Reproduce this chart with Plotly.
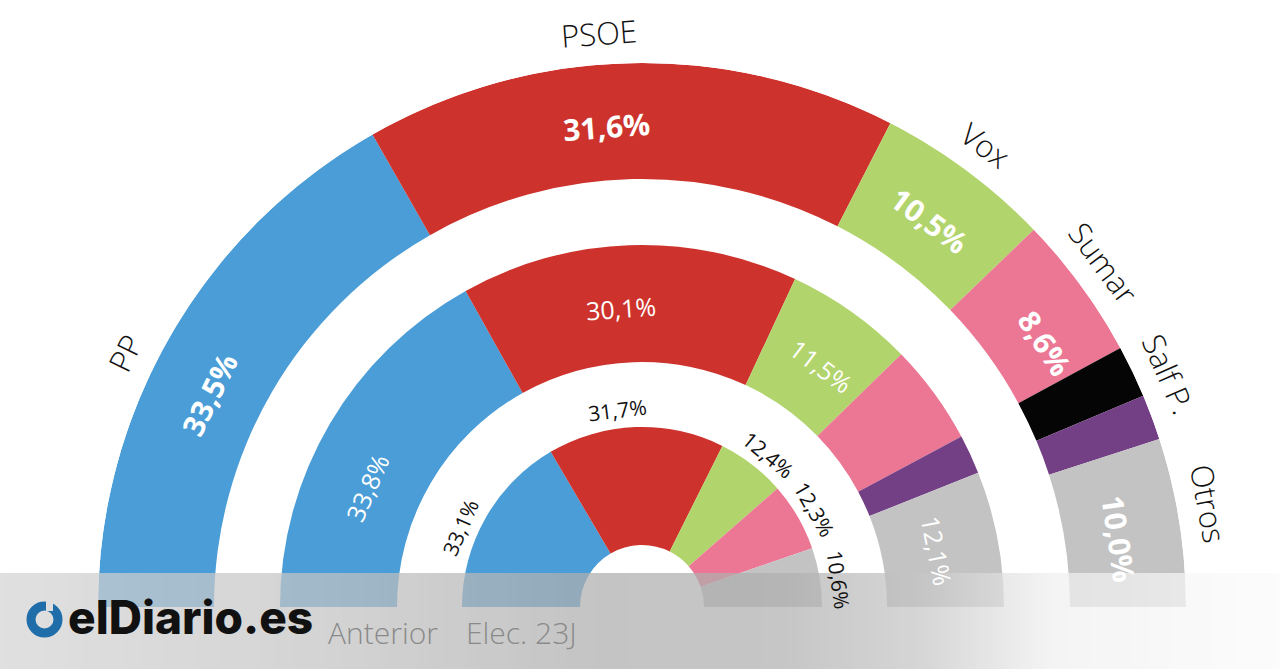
import math
import zlib
import struct
import base64
import plotly.graph_objects as go

# ---------------- data ----------------
outer_parties = ["PP", "PSOE", "Vox", "Sumar", "Salf P.", "Podemos", "Otros"]
outer_values = [33.5, 31.6, 10.5, 8.6, 3.1, 2.7, 10.0]
outer_show_value = [True, True, True, True, False, False, True]
outer_show_name = [True, True, True, True, True, False, True]

middle_parties = ["PP", "PSOE", "Vox", "Sumar", "Podemos", "Otros"]
middle_values = [33.8, 30.1, 11.5, 9.0, 3.5, 12.1]
middle_show_value = [True, True, True, False, False, True]

inner_parties = ["PP", "PSOE", "Vox", "Sumar", "Otros"]
inner_values = [33.1, 31.7, 12.4, 12.3, 10.6]
inner_show_value = [True, True, True, True, True]

ring_names = ["", "Anterior", "Elec. 23J"]

party_colors = {
    "PP": "#4a9dd6",
    "PSOE": "#cd332c",
    "Vox": "#b2d46c",
    "Sumar": "#ec7794",
    "Salf P.": "#050505",
    "Podemos": "#733f85",
    "Otros": "#c3c3c3",
}

# ---------------- geometry / style (pixels, degrees) ----------------
W, H = 1280, 669
CX, CY = 642, 607
R = 544
rings = [(428, 544), (245, 362), (62, 180)]
FONT = "Open Sans"

# small manual label nudges (degrees, positive = counter-clockwise)
nudge_outer_value = {"PP": 4, "PSOE": 3, "Sumar": -3, "Otros": -0.8}
nudge_outer_name = {"PP": 4, "PSOE": 3, "Sumar": 0.5, "Salf P.": -1.8, "Otros": 1.3}
nudge_middle_value = {"PP": 7, "PSOE": 2, "Vox": -1.3}
nudge_inner_value = {"PP": 6, "PSOE": 5, "Vox": -2, "Sumar": -0.5, "Otros": -1.5}


def fmt(v):
    return f"{v:.1f}".replace(".", ",") + "%"


def angles(values):
    total = sum(values)
    mids, spans = [], []
    cum = 0.0
    for v in values:
        span = 180.0 * v / total
        mids.append(180.0 - cum - span / 2)
        spans.append(span)
        cum += span
    return mids, spans


def to_paper(r, ang):
    px = CX + r * math.cos(math.radians(ang))
    py = CY - r * math.sin(math.radians(ang))
    return px / W, 1 - py / H


fig = go.Figure()
annotations = []

ring_data = [
    (outer_parties, outer_values),
    (middle_parties, middle_values),
    (inner_parties, inner_values),
]

for (parties, values), (r0, r1) in zip(ring_data, rings):
    mids, spans = angles(values)
    fig.add_trace(go.Barpolar(
        r=[r1 - r0] * len(values),
        base=[r0] * len(values),
        theta=mids,
        width=spans,
        marker=dict(color=[party_colors[p] for p in parties], line=dict(width=0)),
        text=parties,
        hoverinfo="text",
        showlegend=False,
    ))


def add_label(text, r, ang, size, color, weight="normal"):
    x, y = to_paper(r, ang)
    annotations.append(dict(
        x=x, y=y, xref="paper", yref="paper", text=text, showarrow=False,
        textangle=90 - ang, xanchor="center", yanchor="middle",
        font=dict(family=FONT, size=size, color=color, weight=weight),
    ))


# outer ring: values inside (bold white), names outside
mids, _ = angles(outer_values)
for p, v, sv, sn, a in zip(outer_parties, outer_values, outer_show_value, outer_show_name, mids):
    if sv:
        add_label(fmt(v), 482, a + nudge_outer_value.get(p, 0), 30, "white", "bold")
    if sn:
        add_label(p, 576, a + nudge_outer_name.get(p, 0), 31, "#111111", 300)

# middle ring: values inside (white)
mids, _ = angles(middle_values)
for p, v, sv, a in zip(middle_parties, middle_values, middle_show_value, mids):
    if sv:
        add_label(fmt(v), 300, a + nudge_middle_value.get(p, 0), 25, "white")

# inner ring: values outside (black)
mids, _ = angles(inner_values)
for p, v, sv, a in zip(inner_parties, inner_values, inner_show_value, mids):
    if sv:
        add_label(fmt(v), 198, a + nudge_inner_value.get(p, 0), 21, "#111111")


# ---------------- bottom translucent band (gradient image) ----------------
def png_data_uri(row_rgba):
    w = len(row_rgba)
    raw = b"\x00" + bytes(sum(row_rgba, []))

    def chunk(tag, data):
        c = struct.pack(">I", len(data)) + tag + data
        return c + struct.pack(">I", zlib.crc32(tag + data) & 0xFFFFFFFF)

    png = b"\x89PNG\r\n\x1a\n"
    png += chunk(b"IHDR", struct.pack(">IIBBBBB", w, 1, 8, 6, 0, 0, 0))
    png += chunk(b"IDAT", zlib.compress(raw))
    png += chunk(b"IEND", b"")
    return "data:image/png;base64," + base64.b64encode(png).decode()


stops = [(0, 224), (320, 212), (600, 196), (780, 198), (920, 214), (1050, 244), (1280, 252)]
alpha = 0.72


def band_tone(x):
    for (xa, ta), (xb, tb) in zip(stops[:-1], stops[1:]):
        if xa <= x <= xb:
            return ta + (tb - ta) * (x - xa) / (xb - xa)
    return stops[-1][1]


row = []
N = 320
for i in range(N):
    t = band_tone((i + 0.5) * W / N)
    c = max(0, min(255, round((t - 255 * (1 - alpha)) / alpha)))
    row.append([c, c, c, round(alpha * 255)])

BAND_TOP = 573
images = [dict(
    source=png_data_uri(row), xref="paper", yref="paper",
    x=0, y=1 - BAND_TOP / H, sizex=1, sizey=(H - BAND_TOP) / H,
    xanchor="left", yanchor="top", sizing="stretch", layer="above",
)]

shapes = []

# ring names on band (the first one sits under the logo and is not shown)
ring_name_left = {"Anterior": 326}
for name, (r0, r1) in zip(ring_names, rings):
    if not name:
        continue
    if name in ring_name_left:
        x, anchor = ring_name_left[name] / W, "left"
    else:
        x, anchor = (CX - (r0 + r1) / 2) / W, "center"
    annotations.append(dict(
        x=x, y=1 - 632 / H, xref="paper", yref="paper",
        text=name, showarrow=False, xanchor=anchor, yanchor="middle",
        font=dict(family=FONT, size=30, color="#8a8a8a", weight=300),
    ))

# logo
shapes.append(dict(
    type="circle", xref="paper", yref="paper", layer="above",
    x0=31 / W, x1=58 / W, y0=1 - 633 / H, y1=1 - 606 / H,
    line=dict(color="#1f6ea9", width=9), fillcolor="rgba(0,0,0,0)",
))
shapes.append(dict(
    type="rect", xref="paper", yref="paper", layer="above",
    x0=46 / W, x1=53 / W, y0=1 - 611 / H, y1=1 - 598 / H,
    line=dict(width=0), fillcolor="#dedede",
))
annotations.append(dict(
    x=66 / W, y=1 - 617 / H, xref="paper", yref="paper", text="elDiario.es",
    showarrow=False, xanchor="left", yanchor="middle",
    font=dict(family="Inter", size=46, color="#111111", weight=800),
))

fig.update_layout(
    width=W, height=H,
    margin=dict(l=0, r=0, t=0, b=0),
    paper_bgcolor="white",
    polar=dict(
        domain=dict(x=[(CX - R) / W, (CX + R) / W], y=[1 - CY / H, 1 - (CY - R) / H]),
        sector=[0, 180],
        bgcolor="rgba(0,0,0,0)",
        radialaxis=dict(range=[0, R], visible=False, showgrid=False),
        angularaxis=dict(visible=False, showgrid=False, direction="counterclockwise", rotation=0),
        bargap=0,
    ),
    shapes=shapes,
    images=images,
    annotations=annotations,
)

fig.write_html(
    "out.html",
    config={"displayModeBar": False},
    post_script="document.body.style.margin='0px';",
)
